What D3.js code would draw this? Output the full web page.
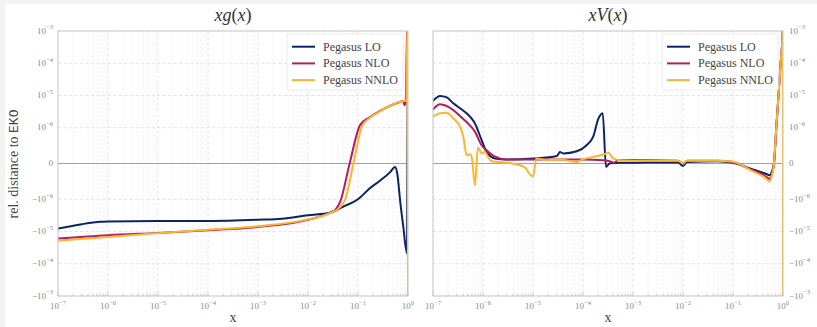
<!DOCTYPE html>
<html><head><meta charset="utf-8">
<script src="https://cdn.jsdelivr.net/npm/d3@7"></script>
<style>
html,body{margin:0;padding:0;background:#f3f3f3;}
svg{display:block;}
</style></head>
<body>
<script>
// ---------------- data ----------------
const seriesNames = ["Pegasus LO", "Pegasus NLO", "Pegasus NNLO"];
const seriesColors = ["#0b2466", "#b31d5e", "#fcb52e"];
const panelTitles = ["g", "V"];
const xTickValues = [1e-7, 1e-6, 1e-5, 1e-4, 1e-3, 1e-2, 1e-1, 1];
const yTickValues = [-1e-3, -1e-4, -1e-5, -1e-6, 0, 1e-6, 1e-5, 1e-4, 1e-3];

// xg(x) panel
const gLO_x   = [1e-7, 3e-7, 7e-7, 1e-6, 1e-5, 1e-4, 1e-3, 3e-3, 1e-2, 0.0275, 0.05, 0.1, 0.17, 0.275, 0.44, 0.55, 0.61, 0.7, 0.8, 0.955, 1];
const gLO_y   = [-8.1e-6, -5.9e-6, -5.0e-6, -4.9e-6, -4.7e-6, -4.7e-6, -4.3e-6, -4.0e-6, -3.1e-6, -2.6e-6, -1.7e-6, -1.0e-6, -7e-7, -4.8e-7, -2.4e-7, -9.5e-8, -2.8e-7, -1.2e-6, -6.5e-6, -4.7e-5, 2e-3];
const gNLO_x  = [1e-7, 1e-6, 1e-5, 1e-4, 1e-3, 1e-2, 0.0275, 0.036, 0.044, 0.068, 0.11, 0.17, 0.275, 0.44, 0.69, 0.8, 0.85, 0.9, 0.97, 1];
const gNLO_y  = [-1.65e-5, -1.3e-5, -1.1e-5, -9.1e-6, -7.2e-6, -4.3e-6, -2.6e-6, -2.0e-6, -1.2e-6, 0, 1.2e-6, 2.1e-6, 3.3e-6, 4.8e-6, 6.3e-6, 6.7e-6, 5.0e-6, 6.5e-6, 2e-3, 2e-3];
const gNNLO_x = [1e-7, 1e-6, 1e-5, 1e-4, 1e-3, 1e-2, 0.0275, 0.045, 0.055, 0.081, 0.12, 0.17, 0.275, 0.44, 0.69, 0.93, 0.975, 1];
const gNNLO_y = [-1.9e-5, -1.47e-5, -1.12e-5, -8.8e-6, -6.9e-6, -4.2e-6, -2.7e-6, -1.7e-6, -1.05e-6, 0, 1.1e-6, 2.0e-6, 3.2e-6, 4.8e-6, 6.4e-6, 7e-6, 2e-3, -2e-3];

// xV(x) panel
const vLO_x   = [1e-7, 1.38e-7, 1.88e-7, 2.55e-7, 3.47e-7, 4.7e-7, 5.95e-7, 6.9e-7, 9.4e-7, 1.18e-6, 1.74e-6, 2.97e-6, 1e-5, 3.0e-5, 3.47e-5, 4.05e-5, 7.5e-5, 1.18e-4, 1.6e-4, 2.03e-4, 2.48e-4, 2.88e-4, 3.47e-4, 5.5e-4, 1e-3, 3e-3, 8e-3, 1e-2, 1.2e-2, 0.05, 0.1, 0.22, 0.44, 0.55, 0.6, 0.66, 0.734, 0.813, 0.895, 0.987, 1];
const vLO_y   = [6.8e-6, 9.7e-6, 8.7e-6, 5.7e-6, 4.0e-6, 2.8e-6, 1.9e-6, 1.35e-6, 6.5e-7, 3.25e-7, 1.4e-7, 1.1e-7, 1.4e-7, 2.1e-7, 3.2e-7, 2.8e-7, 3.4e-7, 5.1e-7, 7.5e-7, 1.9e-6, 2.8e-6, -9.5e-8, 1e-8, 2e-8, 2e-8, 3e-8, 3e-8, -7e-8, 4e-8, 6e-8, 1.7e-8, -1.4e-7, -2.8e-7, -3.3e-7, -2.2e-7, 0, 1e-6, 1e-5, 1e-4, 1e-3, 2e-3];
const vNLO_x  = [1e-7, 1.38e-7, 1.88e-7, 2.55e-7, 3.47e-7, 4.7e-7, 6.9e-7, 9.4e-7, 1.18e-6, 1.74e-6, 2.97e-6, 1e-5, 1e-4, 2.5e-4, 3.5e-4, 4.2e-4, 5e-4, 1e-3, 8e-3, 1e-2, 1.2e-2, 0.05, 0.1, 0.22, 0.44, 0.55, 0.6, 0.66, 0.734, 0.813, 0.895, 0.987, 1];
const vNLO_y  = [3.7e-6, 5.3e-6, 4.7e-6, 3.5e-6, 2.3e-6, 1.5e-6, 8.9e-7, 5.1e-7, 3.7e-7, 1.9e-7, 1.1e-7, 1.1e-7, 1.15e-7, 9e-8, 6e-8, 2e-8, 1e-7, 1e-7, 8e-8, 0, 8e-8, 8e-8, 4e-8, -1.6e-7, -3.5e-7, -4.3e-7, -3e-7, 0, 1e-6, 1e-5, 1e-4, 1e-3, 2e-3];
const vNNLO_x = [1e-7, 1.38e-7, 1.88e-7, 2.55e-7, 3.47e-7, 4.04e-7, 4.7e-7, 5.5e-7, 6.0e-7, 6.9e-7, 7.9e-7, 9.4e-7, 1.08e-6, 1.26e-6, 1.47e-6, 2.1e-6, 3.8e-6, 6.9e-6, 8.0e-6, 1e-5, 1.17e-5, 1.85e-5, 3.47e-5, 7.5e-5, 1e-4, 1.85e-4, 2.88e-4, 3.2e-4, 4.0e-4, 5.5e-4, 1e-3, 8e-3, 1e-2, 1.2e-2, 0.05, 0.1, 0.22, 0.44, 0.54, 0.6, 0.66, 0.734, 0.813, 0.895, 0.987, 0.995, 1];
const vNNLO_y = [2.2e-6, 2.8e-6, 2.9e-6, 1.95e-6, 1.07e-6, 7.5e-7, 2.3e-7, 2.6e-7, 1.5e-7, -6.1e-7, 4.5e-7, 2.8e-7, 3.25e-7, 1.85e-7, 6.5e-8, 4.5e-8, 0, -1.1e-7, -2.4e-7, -3.6e-7, 1.4e-7, 9.3e-8, 1.1e-7, 4.5e-8, 1.2e-7, 2e-7, 2.8e-7, 3.1e-7, 1.4e-7, 9e-8, 8e-8, 8e-8, 0, 8e-8, 8e-8, 5e-8, -1.8e-7, -4e-7, -5e-7, -3.3e-7, 0, 1e-6, 1e-5, 1e-4, 1e-3, 5e-3, -5e-3];

// ---------------- layout ----------------
const W = 817, H = 327;
const plotTop = 31, plotBottom = 296;
const panels = [
  {x0: 58,  x1: 408, side: "left",
   series: [[gLO_x, gLO_y], [gNLO_x, gNLO_y], [gNNLO_x, gNNLO_y]],
   legend: {x0: 287, x1: 403, lineX0: 292, lineX1: 315, textX: 323}},
  {x0: 433, x1: 783, side: "right",
   series: [[vLO_x, vLO_y], [vNLO_x, vNLO_y], [vNNLO_x, vNNLO_y]],
   legend: {x0: 662, x1: 778, lineX0: 667, lineX1: 690, textX: 698}}
];

// matplotlib-like symlog transform (linthresh 1e-6, linscale 1, base 10)
const LT = 1e-6, LINADJ = 1 / (1 - 1 / 10);
function symlogT(v) {
  const a = Math.abs(v), s = Math.sign(v);
  return a <= LT ? s * LINADJ * a / LT : s * (LINADJ + Math.log10(a / LT));
}
const yLin = d3.scaleLinear().domain([-(LINADJ + 3), LINADJ + 3]).range([plotBottom, plotTop]);
const yScale = v => yLin(symlogT(v));

const svg = d3.select("body").append("svg").attr("width", W).attr("height", H);
svg.append("rect").attr("x", 5).attr("y", 4).attr("width", W - 5).attr("height", H - 4).attr("fill", "#ffffff");

const serif = "'Liberation Serif', 'Times New Roman', serif";
const tickColor = "#8a8a8a";

function supLabel(sel, v) {
  if (v === 0) { sel.text("0"); return; }
  const e = Math.round(Math.log10(Math.abs(v)));
  sel.append("tspan").text((v < 0 ? "\u2212" : "") + "10");
  sel.append("tspan").attr("dy", -4.2).attr("font-size", 6.6).text(e < 0 ? "\u2212" + (-e) : String(e));
}

panels.forEach((p, pi) => {
  const xScale = d3.scaleLog().domain([1e-7, 1]).range([p.x0, p.x1]);
  const g = svg.append("g");

  // minor vertical grid
  const minor = [];
  for (let e = -7; e < 0; e++) for (let m = 2; m <= 9; m++) minor.push(m * Math.pow(10, e));
  g.selectAll(null).data(minor).enter().append("line")
    .attr("x1", d => xScale(d)).attr("x2", d => xScale(d))
    .attr("y1", plotTop).attr("y2", plotBottom)
    .attr("stroke", "#ececec").attr("stroke-width", 0.7).attr("stroke-dasharray", "2.5,1.5");
  // major vertical grid
  g.selectAll(null).data(xTickValues).enter().append("line")
    .attr("x1", d => xScale(d)).attr("x2", d => xScale(d))
    .attr("y1", plotTop).attr("y2", plotBottom)
    .attr("stroke", "#dedede").attr("stroke-width", 0.8).attr("stroke-dasharray", "3.5,2");
  // major horizontal grid
  g.selectAll(null).data(yTickValues).enter().append("line")
    .attr("x1", p.x0).attr("x2", p.x1)
    .attr("y1", d => yScale(d)).attr("y2", d => yScale(d))
    .attr("stroke", "#dedede").attr("stroke-width", 0.8).attr("stroke-dasharray", "3.5,2");
  // zero line
  g.append("line").attr("x1", p.x0).attr("x2", p.x1)
    .attr("y1", yScale(0)).attr("y2", yScale(0))
    .attr("stroke", "#a0a0a0").attr("stroke-width", 1.2);

  // bottom tick marks (inside)
  g.selectAll(null).data(minor).enter().append("line")
    .attr("x1", d => xScale(d)).attr("x2", d => xScale(d))
    .attr("y1", plotBottom).attr("y2", plotBottom - 2.2)
    .attr("stroke", "#b5b5b5").attr("stroke-width", 0.7);
  g.selectAll(null).data(xTickValues).enter().append("line")
    .attr("x1", d => xScale(d)).attr("x2", d => xScale(d))
    .attr("y1", plotBottom).attr("y2", plotBottom - 3.5)
    .attr("stroke", "#b5b5b5").attr("stroke-width", 0.8);

  // series
  const clipId = "clip" + pi;
  svg.append("clipPath").attr("id", clipId).append("rect")
    .attr("x", p.x0).attr("y", plotTop).attr("width", p.x1 - p.x0).attr("height", plotBottom - plotTop);
  const lineGen = d3.line().x(d => xScale(d[0])).y(d => yScale(d[1])).curve(d3.curveMonotoneX);
  const lg = g.append("g").attr("clip-path", `url(#${clipId})`);
  p.series.forEach(([xs, ys], si) => {
    const pts = xs.map((x, i) => [x, ys[i]]);
    lg.append("path").attr("d", lineGen(pts))
      .attr("fill", "none").attr("stroke", seriesColors[si])
      .attr("stroke-width", 2).attr("stroke-linejoin", "round").attr("stroke-linecap", "round");
  });

  // frame
  g.append("rect").attr("x", p.x0).attr("y", plotTop)
    .attr("width", p.x1 - p.x0).attr("height", plotBottom - plotTop)
    .attr("fill", "none").attr("stroke", "#cacaca").attr("stroke-width", 1);

  // x tick labels
  g.selectAll(null).data(xTickValues).enter().append("text")
    .attr("x", d => xScale(d)).attr("y", 309)
    .attr("text-anchor", "middle").attr("font-family", serif).attr("font-size", 9)
    .attr("fill", tickColor)
    .each(function (d) { supLabel(d3.select(this), d); });

  // y tick labels
  g.selectAll(null).data(yTickValues).enter().append("text")
    .attr("x", p.side === "left" ? p.x0 - 5 : p.x1 + 6)
    .attr("y", d => yScale(d) + 2.5)
    .attr("text-anchor", p.side === "left" ? "end" : "start")
    .attr("font-family", serif).attr("font-size", 9).attr("fill", tickColor)
    .each(function (d) { supLabel(d3.select(this), d); });

  // title
  const cx = (p.x0 + p.x1) / 2;
  const t = g.append("text").attr("x", cx).attr("y", 21).attr("text-anchor", "middle")
    .attr("font-family", serif).attr("font-size", 18).attr("fill", "#333");
  t.append("tspan").attr("font-style", "italic").text("x" + panelTitles[pi]);
  t.append("tspan").text("(");
  t.append("tspan").attr("font-style", "italic").text("x");
  t.append("tspan").text(")");

  // x label
  g.append("text").attr("x", cx).attr("y", 322).attr("text-anchor", "middle")
    .attr("font-family", serif).attr("font-size", 14).attr("fill", "#444").text("x");

  // legend
  const L = p.legend;
  g.append("rect").attr("x", L.x0).attr("y", 34).attr("width", L.x1 - L.x0).attr("height", 56)
    .attr("rx", 2).attr("fill", "#ffffff").attr("fill-opacity", 0.85)
    .attr("stroke", "#ebebeb").attr("stroke-width", 1);
  seriesNames.forEach((name, si) => {
    const yy = 46.7 + si * 16.7;
    g.append("line").attr("x1", L.lineX0).attr("x2", L.lineX1).attr("y1", yy).attr("y2", yy)
      .attr("stroke", seriesColors[si]).attr("stroke-width", 2);
    g.append("text").attr("x", L.textX).attr("y", yy + 4).attr("font-family", serif)
      .attr("font-size", 12).attr("fill", "#444").text(name);
  });
});

// y axis label
const yLab = svg.append("text").attr("transform", "translate(18,164) rotate(-90)")
  .attr("text-anchor", "middle").attr("font-family", serif).attr("font-size", 14).attr("fill", "#444");
yLab.append("tspan").text("rel. distance to ");
yLab.append("tspan").attr("font-family", "'Liberation Mono', 'DejaVu Sans Mono', monospace").attr("font-size", 13).text("EKO");
</script>
</body></html>
